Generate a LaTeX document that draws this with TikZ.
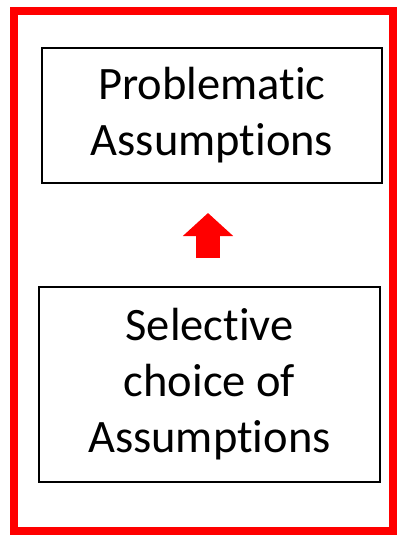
\documentclass[tikz,border=0pt]{standalone}
\usepackage{fontspec}
\setmainfont{Carlito}[Ligatures=NoCommon]
\usetikzlibrary{arrows.meta}

\begin{document}
\begin{tikzpicture}[x=1pt,y=-1pt,
	textbox/.style={draw,line width=1.3pt,align=center,inner sep=0pt,
		font=\fontsize{46.5}{56}\selectfont},
	bigarrow/.style={red,line width=24pt,-{Triangle[width=49pt,length=23pt]}}]
	\useasboundingbox (0,0) rectangle (398,535);
	% Red outer frame
	\draw[red,line width=8pt] (14,11.5) rectangle (393,531);

	% The two boxes
	\node[textbox,minimum width=340pt,minimum height=135pt] (high) at (212,115.5)
		{Problematic\\Assumptions};
	\node[textbox,minimum width=341pt,minimum height=195pt] (low) at (209.5,384.5)
		{Selective\\choice of\\Assumptions};

	% Upward arrow
	\coordinate (tail) at (208,258);
	\coordinate (tip) at (208,213);
	\draw[bigarrow] (tail) -- (tip);
\end{tikzpicture}
\end{document}
